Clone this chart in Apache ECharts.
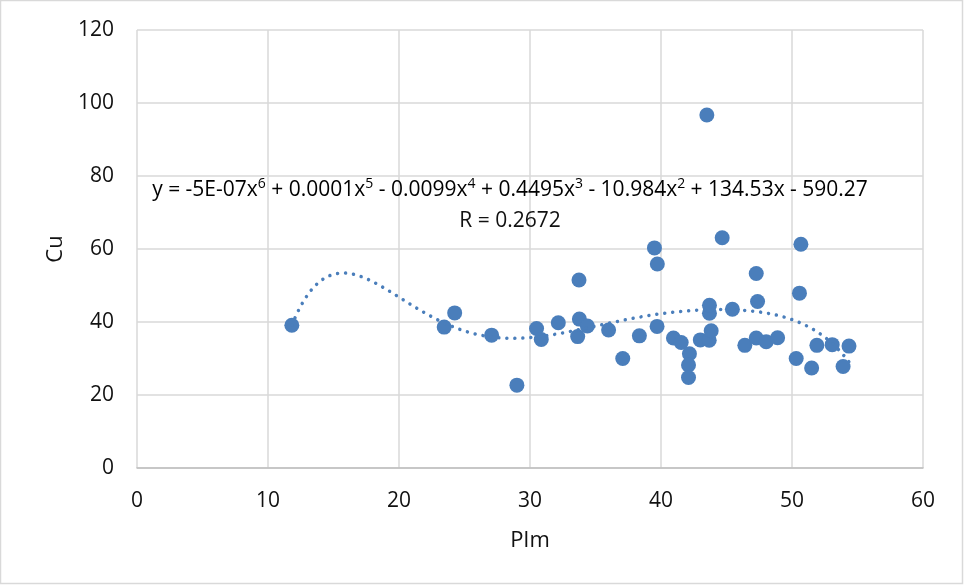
<!DOCTYPE html>
<html>
<head>
<meta charset="utf-8">
<title>Cu vs PIm</title>
<script src="https://cdn.jsdelivr.net/npm/echarts@6/dist/echarts.min.js"></script>
<style>
  html, body { margin: 0; padding: 0; background: #ffffff; }
  #chart { width: 965px; height: 585px; }
</style>
</head>
<body>
<div id="chart"></div>
<script>
// Sample measurements: PIm (x) and Cu (y)
const pimValues = [
  11.82, 23.45, 24.25, 27.07, 29.00, 30.50, 30.86, 32.16, 33.74, 33.77,
  33.64, 34.38, 36.00, 37.08, 38.35, 39.70, 39.72, 39.50, 40.95, 41.54,
  42.17, 42.10, 42.10, 43.00, 43.68, 43.83, 43.70, 43.70, 43.50, 44.67,
  45.45, 46.40, 47.27, 48.03, 48.90, 47.37, 47.27, 50.57, 50.68, 50.32,
  51.50, 51.90, 53.07, 54.35, 53.90
];
const cuValues = [
  39.1, 38.6, 42.5, 36.4, 22.7, 38.2, 35.2, 39.8, 51.5, 40.8,
  36.0, 38.9, 37.8, 30.0, 36.2, 38.8, 55.9, 60.3, 35.6, 34.4,
  31.3, 28.2, 24.8, 35.1, 35.0, 37.6, 42.4, 44.6, 96.7, 63.1,
  43.5, 33.6, 35.6, 34.6, 35.7, 45.6, 53.3, 47.9, 61.3, 30.0,
  27.4, 33.6, 33.8, 33.4, 27.8
];
const xTicks = { min: 0, max: 60, step: 10 };
const yTicks = { min: 0, max: 120, step: 20 };
const trendDegree = 6;
const equationText = 'y = -5E-07x6 + 0.0001x5 - 0.0099x4 + 0.4495x3 - 10.984x2 + 134.53x - 590.27';
const rText = 'R = 0.2672';

// Least-squares polynomial fit on a centred/scaled variable for stability
function polyFit(xs, ys, deg) {
  const n = xs.length;
  const mean = xs.reduce((a, b) => a + b, 0) / n;
  const scale = Math.max(...xs.map(v => Math.abs(v - mean))) || 1;
  const m = deg + 1;
  const A = Array.from({ length: m }, () => new Array(m + 1).fill(0));
  for (let k = 0; k < n; k++) {
    const t = (xs[k] - mean) / scale;
    const pw = [1];
    for (let i = 1; i <= 2 * deg; i++) pw.push(pw[i - 1] * t);
    for (let i = 0; i < m; i++) {
      for (let j = 0; j < m; j++) A[i][j] += pw[i + j];
      A[i][m] += ys[k] * pw[i];
    }
  }
  for (let c = 0; c < m; c++) {
    let p = c;
    for (let r = c + 1; r < m; r++) if (Math.abs(A[r][c]) > Math.abs(A[p][c])) p = r;
    [A[c], A[p]] = [A[p], A[c]];
    for (let r = 0; r < m; r++) {
      if (r === c) continue;
      const f = A[r][c] / A[c][c];
      for (let j = c; j <= m; j++) A[r][j] -= f * A[c][j];
    }
  }
  const coef = A.map((row, i) => row[m] / row[i]);
  return x => {
    const t = (x - mean) / scale;
    let s = 0;
    for (let i = m - 1; i >= 0; i--) s = s * t + coef[i];
    return s;
  };
}

const points = pimValues.map((x, i) => [x, cuValues[i]]);
const fit = polyFit(pimValues, cuValues, trendDegree);
const xLo = Math.min(...pimValues), xHi = Math.max(...pimValues);
const trendPoints = [];
const steps = 300;
for (let i = 0; i <= steps; i++) {
  const x = xLo + (xHi - xLo) * i / steps;
  trendPoints.push([x, fit(x)]);
}

// Equation label with superscript exponents
function equationRich(txt) {
  const parts = txt.split(/(x\d)/);
  return parts.map(p => {
    const m = /^x(\d)$/.exec(p);
    return m ? '{t|x}{s|' + m[1] + '}' : (p ? '{t|' + p + '}' : '');
  }).join('');
}

const FONT = '"Open Sans", "Noto Sans", sans-serif';
const BLUE = '#4a7ebb';
const TEXT = '#111111';
const chart = echarts.init(document.getElementById('chart'), null, { renderer: 'canvas' });

chart.setOption({
  backgroundColor: '#ffffff',
  animation: false,
  grid: { left: 137, right: 42, top: 30, bottom: 117, containLabel: false },
  xAxis: {
    type: 'value',
    min: xTicks.min, max: xTicks.max, interval: xTicks.step,
    name: 'PIm', nameLocation: 'middle', nameGap: 62,
    nameTextStyle: { fontFamily: FONT, fontSize: 22, color: TEXT },
    axisLine: { show: true, lineStyle: { color: '#bfbfbf', width: 1.5 } },
    axisTick: { show: false },
    axisLabel: { fontFamily: FONT, fontSize: 21, color: TEXT, margin: 23 },
    splitLine: { show: true, lineStyle: { color: '#d9d9d9', width: 1.5 } }
  },
  yAxis: {
    type: 'value',
    min: yTicks.min, max: yTicks.max, interval: yTicks.step,
    name: 'Cu', nameLocation: 'middle', nameGap: 70, nameRotate: 90,
    nameTextStyle: { fontFamily: FONT, fontSize: 22, color: TEXT },
    axisLine: { show: false },
    axisTick: { show: false },
    axisLabel: { fontFamily: FONT, fontSize: 21, color: TEXT, margin: 23 },
    splitLine: { show: true, lineStyle: { color: '#d9d9d9', width: 1.5 } }
  },
  series: [
    {
      type: 'scatter',
      data: points,
      symbol: 'circle',
      symbolSize: 15,
      itemStyle: { color: BLUE, opacity: 1 },
      z: 2
    },
    {
      type: 'line',
      data: trendPoints,
      showSymbol: false,
      smooth: false,
      lineStyle: { color: BLUE, width: 3.5, type: [0.01, 8], cap: 'round' },
      z: 3,
      silent: true
    }
  ],
  graphic: [
    {
      type: 'rect',
      shape: { x: 0.5, y: 0.5, width: 962, height: 583 },
      style: { fill: null, stroke: '#d9d9d9', lineWidth: 1.5 },
      silent: true
    },
    {
      type: 'text',
      x: 510, y: 190,
      style: {
        text: equationRich(equationText),
        align: 'center', verticalAlign: 'middle',
        rich: {
          t: { fontFamily: FONT, fontSize: 21, color: TEXT, lineHeight: 26 },
          s: { fontFamily: FONT, fontSize: 14, color: TEXT, lineHeight: 26, padding: [0, 0, 11, 0] }
        }
      },
      z: 10
    },
    {
      type: 'text',
      x: 510, y: 221,
      style: {
        text: rText, align: 'center', verticalAlign: 'middle',
        fontFamily: FONT, fontSize: 21, fill: TEXT
      },
      z: 10
    }
  ]
});
</script>
</body>
</html>
